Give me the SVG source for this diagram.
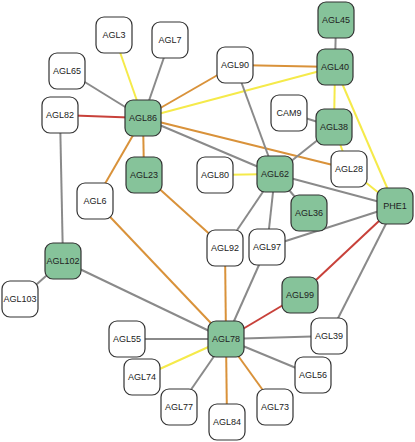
<svg xmlns="http://www.w3.org/2000/svg" width="415" height="442" viewBox="0 0 415 442">
<style>
.e{fill:none;stroke-width:2}
.g{stroke:#8a8a8a}
.y{stroke:#f5ea4a}
.o{stroke:#d9923a}
.r{stroke:#c8413a}
.n rect{fill:#ffffff;stroke:#333333;stroke-width:1.2}
.n.h rect{fill:#86c39a}
.n text{font-family:"Liberation Sans","Open Sans",Arial,sans-serif;font-size:9px;fill:#222222;text-anchor:middle;dominant-baseline:central}
</style>
<rect width="415" height="442" fill="#ffffff"/>
<g id="edges">
<line class="e y" x1="114" y1="35" x2="143" y2="118"/>
<line class="e g" x1="170" y1="40" x2="143" y2="118"/>
<line class="e g" x1="67" y1="71" x2="143" y2="118"/>
<line class="e r" x1="60" y1="115" x2="143" y2="118"/>
<line class="e g" x1="60" y1="115" x2="63" y2="261"/>
<line class="e o" x1="143" y1="118" x2="235" y2="65"/>
<line class="e y" x1="143" y1="118" x2="335" y2="67"/>
<line class="e o" x1="143" y1="118" x2="349" y2="169"/>
<line class="e g" x1="143" y1="118" x2="275" y2="174"/>
<line class="e o" x1="143" y1="118" x2="144" y2="175"/>
<line class="e o" x1="143" y1="118" x2="95" y2="201"/>
<line class="e o" x1="235" y1="65" x2="335" y2="67"/>
<line class="e g" x1="235" y1="65" x2="275" y2="174"/>
<line class="e g" x1="336" y1="20" x2="335" y2="67"/>
<line class="e y" x1="335" y1="67" x2="334" y2="127"/>
<line class="e y" x1="335" y1="67" x2="395" y2="206"/>
<line class="e g" x1="289" y1="113" x2="334" y2="127"/>
<line class="e g" x1="334" y1="127" x2="275" y2="174"/>
<line class="e y" x1="334" y1="127" x2="349" y2="169"/>
<line class="e y" x1="349" y1="169" x2="395" y2="206"/>
<line class="e y" x1="215" y1="175" x2="275" y2="174"/>
<line class="e g" x1="275" y1="174" x2="395" y2="206"/>
<line class="e g" x1="275" y1="174" x2="309" y2="213"/>
<line class="e g" x1="275" y1="174" x2="225" y2="248"/>
<line class="e g" x1="275" y1="174" x2="267" y2="247"/>
<line class="e o" x1="144" y1="175" x2="225" y2="248"/>
<line class="e o" x1="95" y1="201" x2="226" y2="339"/>
<line class="e o" x1="225" y1="248" x2="226" y2="339"/>
<line class="e g" x1="267" y1="247" x2="395" y2="206"/>
<line class="e g" x1="267" y1="247" x2="226" y2="339"/>
<line class="e r" x1="300" y1="295" x2="395" y2="206"/>
<line class="e r" x1="300" y1="295" x2="226" y2="339"/>
<line class="e g" x1="395" y1="206" x2="329" y2="336"/>
<line class="e g" x1="63" y1="261" x2="20" y2="299"/>
<line class="e g" x1="63" y1="261" x2="226" y2="339"/>
<line class="e g" x1="127" y1="339" x2="226" y2="339"/>
<line class="e y" x1="142" y1="377" x2="226" y2="339"/>
<line class="e g" x1="179" y1="407" x2="226" y2="339"/>
<line class="e o" x1="227" y1="422" x2="226" y2="339"/>
<line class="e o" x1="275" y1="407" x2="226" y2="339"/>
<line class="e g" x1="313" y1="375" x2="226" y2="339"/>
<line class="e g" x1="329" y1="336" x2="226" y2="339"/>
</g>
<g id="AGL3" class="n"><rect x="96" y="17" width="36" height="36" rx="8"/><text x="114" y="35">AGL3</text></g>
<g id="AGL7" class="n"><rect x="152" y="22" width="36" height="36" rx="8"/><text x="170" y="40">AGL7</text></g>
<g id="AGL65" class="n"><rect x="49" y="53" width="36" height="36" rx="8"/><text x="67" y="71">AGL65</text></g>
<g id="AGL82" class="n"><rect x="42" y="97" width="36" height="36" rx="8"/><text x="60" y="115">AGL82</text></g>
<g id="AGL86" class="n h"><rect x="125" y="100" width="36" height="36" rx="8"/><text x="143" y="118">AGL86</text></g>
<g id="AGL45" class="n h"><rect x="318" y="2" width="36" height="36" rx="8"/><text x="336" y="20">AGL45</text></g>
<g id="AGL40" class="n h"><rect x="317" y="49" width="36" height="36" rx="8"/><text x="335" y="67">AGL40</text></g>
<g id="AGL90" class="n"><rect x="217" y="47" width="36" height="36" rx="8"/><text x="235" y="65">AGL90</text></g>
<g id="CAM9" class="n"><rect x="271" y="95" width="36" height="36" rx="8"/><text x="289" y="113">CAM9</text></g>
<g id="AGL38" class="n h"><rect x="316" y="109" width="36" height="36" rx="8"/><text x="334" y="127">AGL38</text></g>
<g id="AGL23" class="n h"><rect x="126" y="157" width="36" height="36" rx="8"/><text x="144" y="175">AGL23</text></g>
<g id="AGL6" class="n"><rect x="77" y="183" width="36" height="36" rx="8"/><text x="95" y="201">AGL6</text></g>
<g id="AGL102" class="n h"><rect x="45" y="243" width="36" height="36" rx="8"/><text x="63" y="261">AGL102</text></g>
<g id="AGL103" class="n"><rect x="2" y="281" width="36" height="36" rx="8"/><text x="20" y="299">AGL103</text></g>
<g id="AGL80" class="n"><rect x="197" y="157" width="36" height="36" rx="8"/><text x="215" y="175">AGL80</text></g>
<g id="AGL62" class="n h"><rect x="257" y="156" width="36" height="36" rx="8"/><text x="275" y="174">AGL62</text></g>
<g id="AGL28" class="n"><rect x="331" y="151" width="36" height="36" rx="8"/><text x="349" y="169">AGL28</text></g>
<g id="AGL36" class="n h"><rect x="291" y="195" width="36" height="36" rx="8"/><text x="309" y="213">AGL36</text></g>
<g id="PHE1" class="n h"><rect x="377" y="188" width="36" height="36" rx="8"/><text x="395" y="206">PHE1</text></g>
<g id="AGL92" class="n"><rect x="207" y="230" width="36" height="36" rx="8"/><text x="225" y="248">AGL92</text></g>
<g id="AGL97" class="n"><rect x="249" y="229" width="36" height="36" rx="8"/><text x="267" y="247">AGL97</text></g>
<g id="AGL99" class="n h"><rect x="282" y="277" width="36" height="36" rx="8"/><text x="300" y="295">AGL99</text></g>
<g id="AGL55" class="n"><rect x="109" y="321" width="36" height="36" rx="8"/><text x="127" y="339">AGL55</text></g>
<g id="AGL74" class="n"><rect x="124" y="359" width="36" height="36" rx="8"/><text x="142" y="377">AGL74</text></g>
<g id="AGL77" class="n"><rect x="161" y="389" width="36" height="36" rx="8"/><text x="179" y="407">AGL77</text></g>
<g id="AGL78" class="n h"><rect x="208" y="321" width="36" height="36" rx="8"/><text x="226" y="339">AGL78</text></g>
<g id="AGL39" class="n"><rect x="311" y="318" width="36" height="36" rx="8"/><text x="329" y="336">AGL39</text></g>
<g id="AGL56" class="n"><rect x="295" y="357" width="36" height="36" rx="8"/><text x="313" y="375">AGL56</text></g>
<g id="AGL73" class="n"><rect x="257" y="389" width="36" height="36" rx="8"/><text x="275" y="407">AGL73</text></g>
<g id="AGL84" class="n"><rect x="209" y="404" width="36" height="36" rx="8"/><text x="227" y="422">AGL84</text></g>
</svg>
